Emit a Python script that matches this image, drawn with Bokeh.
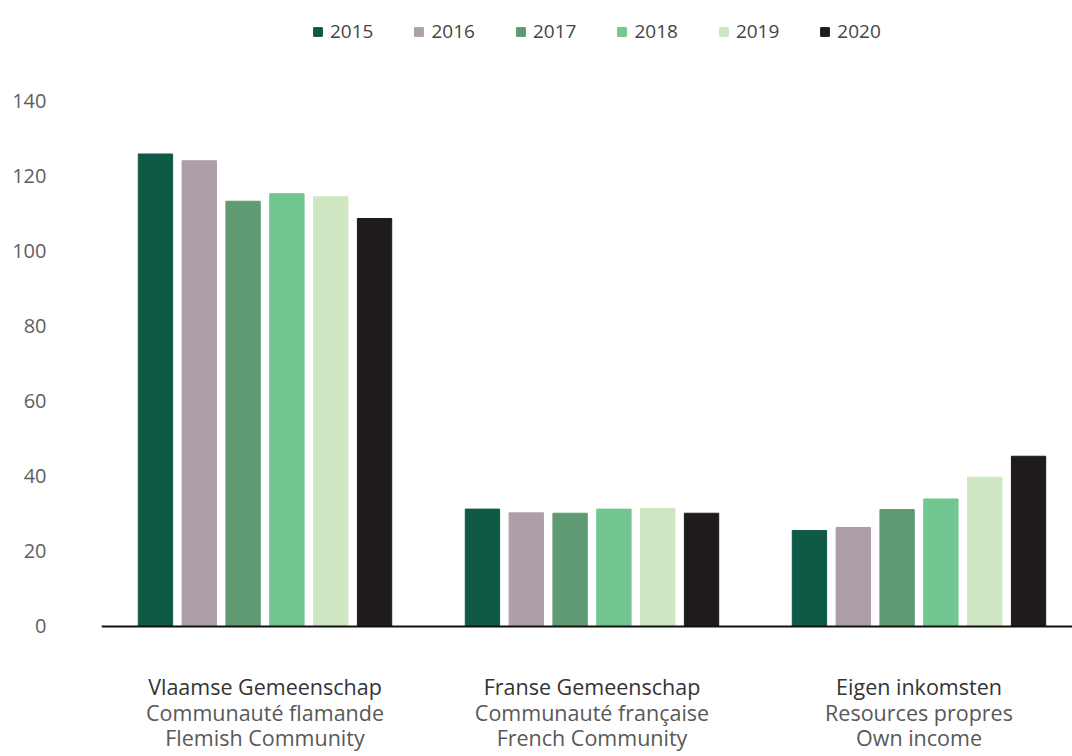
from bokeh.plotting import figure
from bokeh.models import Range1d, FixedTicker, Span, Legend, LegendItem, ColumnDataSource
from bokeh.core.properties import value
from bokeh.transform import dodge
from bokeh.embed import file_html
from bokeh.resources import INLINE

# ---- data ----
categories_nl = ["Vlaamse Gemeenschap", "Franse Gemeenschap", "Eigen inkomsten"]
categories_fr = ["Communauté flamande", "Communauté française", "Resources propres"]
categories_en = ["Flemish Community", "French Community", "Own income"]
years = ["2015", "2016", "2017", "2018", "2019", "2020"]
flemish = [126.0, 124.2, 113.4, 115.4, 114.6, 108.8]
french = [31.3, 30.3, 30.2, 31.3, 31.5, 30.2]
own_income = [25.6, 26.4, 31.2, 34.0, 39.8, 45.4]
colors = ["#0f5a46", "#ad9ea8", "#5f9a73", "#72c690", "#cfe6c2", "#1e1b1a"]
y_ticks = [0, 20, 40, 60, 80, 100, 120, 140]

series = [flemish, french, own_income]
group_x = [i + 0.5 for i in range(len(categories_nl))]

p = figure(width=1072, height=756, output_backend="svg", toolbar_location=None,
           x_range=Range1d(0, 971 / 327), y_range=Range1d(-34.67, 166.93),
           min_border_left=101, min_border_right=0, min_border_top=0, min_border_bottom=0,
           background_fill_color="white", border_fill_color="white")
p.outline_line_color = None
p.grid.visible = False
p.xaxis.visible = False

ax = p.yaxis[0]
ax.ticker = FixedTicker(ticks=y_ticks)
ax.axis_line_color = None
ax.major_tick_line_color = None
ax.minor_tick_line_color = None
ax.major_label_standoff = 49
ax.major_label_text_font = "Open Sans"
ax.major_label_text_font_size = "20px"
ax.major_label_text_color = "#606060"

step = 0.134
items = []
for j, yr in enumerate(years):
    src = ColumnDataSource(dict(x=group_x, top=[s[j] for s in series]))
    r = p.vbar(x=dodge("x", (j - 2.5) * step, range=p.x_range), top="top", bottom=0,
               width=0.105, source=src, fill_color=colors[j], line_color=colors[j])
    items.append(LegendItem(label=yr, renderers=[r]))

p.add_layout(Span(location=0, dimension="width", line_color="#111111", line_width=2))

lab_src = ColumnDataSource(dict(x=group_x, nl=categories_nl, fr=categories_fr, en=categories_en))
for col, yv, colr in [("nl", -15.9, "#333333"), ("fr", -22.9, "#585858"), ("en", -29.6, "#585858")]:
    p.text(x="x", y=yv, text=col, source=lab_src, text_align="center", text_baseline="middle",
           text_font=value("Open Sans"), text_font_size="21.5px", text_color=colr)

legend = Legend(items=items, orientation="horizontal", location=(211, 712),
                glyph_width=11, glyph_height=11, label_standoff=7, spacing=40,
                padding=0, margin=0, border_line_color=None, background_fill_alpha=0,
                label_text_font="Open Sans", label_text_font_size="19px",
                label_text_color="#444444")
p.add_layout(legend)

open("out.html", "w").write(file_html(p, INLINE))
